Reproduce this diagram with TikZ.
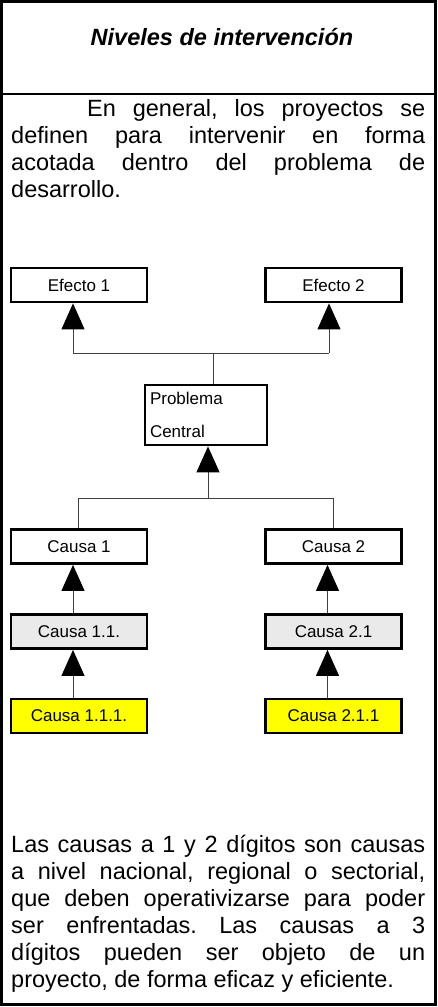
\documentclass[tikz,border=0pt]{standalone}
\usepackage{fontspec}
\setmainfont{Liberation Sans}
\usetikzlibrary{arrows.meta}
\definecolor{grisclaro}{RGB}{234,234,234}
\definecolor{amarillo}{RGB}{255,255,0}
\frenchspacing
\tikzset{
  caja/.style={draw, line width=2.8pt, minimum width=136pt, minimum height=34pt, inner sep=0pt, font=\fontsize{17}{20}\selectfont},
  linea/.style={line width=1pt, draw=black!75},
  flecha/.style={linea, -{Triangle[length=26pt,width=23pt,color=black]}},
  parrafo/.style={text width=414pt, align=justify, inner sep=0pt, font=\fontsize{23.5}{27}\selectfont}
}

\begin{document}
\begin{tikzpicture}[x=1pt,y=1pt,yscale=-1,xscale=1]
\useasboundingbox (0,0) rectangle (437,1007);

%Frame
\draw [line width=2.8pt] (1.4,1.4) rectangle (435.6,1004.4) ;
\draw [line width=2.4pt] (1.4,94) -- (435.6,94) ;

% Text Node
\node [anchor=base, inner sep=0pt, font=\fontsize{23.5}{27}\selectfont\bfseries\itshape] (titulo) at (222,45) {Niveles de intervención};
% Text Node
\node [parrafo, anchor=base west] (intro) at (11,116) {\hspace*{76pt}En general, los proyectos se\linebreak definen para intervenir en forma\linebreak acotada dentro del problema de\linebreak desarrollo.};

%Boxes
\node [caja] (e1) at (79,285) {Efecto 1};
\node [caja] (e2) at (333.5,285) {Efecto 2};
\node [caja, minimum width=122pt, minimum height=60pt, text width=112pt, inner xsep=5pt, align=left, font=\fontsize{17}{33}\selectfont] (pc) at (206,415) {Problema\\Central};
\node [caja] (c1) at (79,546.5) {Causa 1};
\node [caja] (c2) at (333.5,546.5) {Causa 2};
\node [caja, fill=grisclaro] (c11) at (79,631.5) {Causa 1.1.};
\node [caja, fill=grisclaro] (c21) at (333.5,631.5) {Causa 2.1};
\node [caja, fill=amarillo] (c111) at (79,716) {Causa 1.1.1.};
\node [caja, fill=amarillo] (c211) at (333.5,716) {Causa 2.1.1};

%Straight Lines
\coordinate (ja) at (73,353);
\coordinate (jb) at (329,353);
\coordinate (jc) at (213,353);
\draw [linea] (ja) -- (jb) ;
\draw [linea] (jc) -- (jc |- pc.north) ;
\draw [flecha] (ja) -- (ja |- e1.south) ;
\draw [flecha] (jb) -- (jb |- e2.south) ;
%Straight Lines
\coordinate (jd) at (208,498);
\coordinate (je) at (78,498);
\coordinate (jf) at (333,498);
\draw [flecha] (jd) -- (jd |- pc.south) ;
\draw [linea] (je) -- (jf) ;
\draw [linea] (je) -- (je |- c1.north) ;
\draw [linea] (jf) -- (jf |- c2.north) ;
%Straight Lines
\draw [flecha] ([xshift=-6pt]c11.north) -- ([xshift=-6pt]c1.south) ;
\draw [flecha] ([xshift=-6pt]c111.north) -- ([xshift=-6pt]c11.south) ;
\draw [flecha] ([xshift=-6pt]c21.north) -- ([xshift=-6pt]c2.south) ;
\draw [flecha] ([xshift=-6pt]c211.north) -- ([xshift=-6pt]c21.south) ;

% Text Node
\node [parrafo, anchor=base west] (cierre) at (11,852) {Las causas a 1 y 2 dígitos son causas\linebreak a nivel nacional, regional o sectorial,\linebreak que deben operativizarse para poder\linebreak ser enfrentadas. Las causas a 3\linebreak dígitos pueden ser objeto de un\linebreak proyecto, de forma eficaz y eficiente.};

\end{tikzpicture}
\end{document}
